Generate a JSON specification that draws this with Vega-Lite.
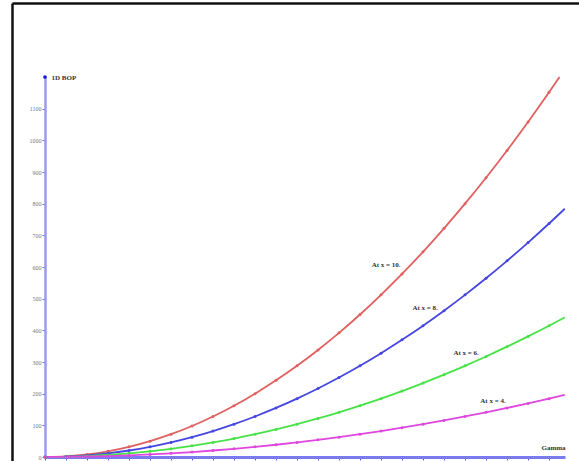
{
  "$schema": "https://vega.github.io/schema/vega-lite/v6.json",
  "width": 567,
  "height": 458,
  "autosize": {"type": "none"},
  "padding": {"left": 12, "top": 3, "right": 0, "bottom": 0},
  "background": "white",
  "config": {"view": {"stroke": null}, "axis": {"grid": false}},
  "datasets": {
    "curves": [
      {"series": "10", "g": 0, "v": 0}, {"series": "10", "g": 1, "v": 2}, {"series": "10", "g": 2, "v": 8}, {"series": "10", "g": 3, "v": 18}, {"series": "10", "g": 4, "v": 32}, {"series": "10", "g": 5, "v": 50}, {"series": "10", "g": 6, "v": 72}, {"series": "10", "g": 7, "v": 98}, {"series": "10", "g": 8, "v": 128}, {"series": "10", "g": 9, "v": 162}, {"series": "10", "g": 10, "v": 200}, {"series": "10", "g": 11, "v": 242}, {"series": "10", "g": 12, "v": 288}, {"series": "10", "g": 13, "v": 338}, {"series": "10", "g": 14, "v": 392}, {"series": "10", "g": 15, "v": 450}, {"series": "10", "g": 16, "v": 512}, {"series": "10", "g": 17, "v": 578}, {"series": "10", "g": 18, "v": 648}, {"series": "10", "g": 19, "v": 722}, {"series": "10", "g": 20, "v": 800}, {"series": "10", "g": 21, "v": 882}, {"series": "10", "g": 22, "v": 968}, {"series": "10", "g": 23, "v": 1058}, {"series": "10", "g": 24, "v": 1152}, {"series": "10", "g": 24.5, "v": 1200},
      {"series": "8", "g": 0, "v": 0}, {"series": "8", "g": 1, "v": 1.3}, {"series": "8", "g": 2, "v": 5.1}, {"series": "8", "g": 3, "v": 11.5}, {"series": "8", "g": 4, "v": 20.5}, {"series": "8", "g": 5, "v": 32}, {"series": "8", "g": 6, "v": 46.1}, {"series": "8", "g": 7, "v": 62.7}, {"series": "8", "g": 8, "v": 81.9}, {"series": "8", "g": 9, "v": 103.7}, {"series": "8", "g": 10, "v": 128}, {"series": "8", "g": 11, "v": 154.9}, {"series": "8", "g": 12, "v": 184.3}, {"series": "8", "g": 13, "v": 216.3}, {"series": "8", "g": 14, "v": 250.9}, {"series": "8", "g": 15, "v": 288}, {"series": "8", "g": 16, "v": 327.7}, {"series": "8", "g": 17, "v": 369.9}, {"series": "8", "g": 18, "v": 414.7}, {"series": "8", "g": 19, "v": 462.1}, {"series": "8", "g": 20, "v": 512}, {"series": "8", "g": 21, "v": 564.5}, {"series": "8", "g": 22, "v": 619.5}, {"series": "8", "g": 23, "v": 677.1}, {"series": "8", "g": 24, "v": 737.3}, {"series": "8", "g": 24.75, "v": 784},
      {"series": "6", "g": 0, "v": 0}, {"series": "6", "g": 1, "v": 0.7}, {"series": "6", "g": 2, "v": 2.9}, {"series": "6", "g": 3, "v": 6.5}, {"series": "6", "g": 4, "v": 11.5}, {"series": "6", "g": 5, "v": 18}, {"series": "6", "g": 6, "v": 25.9}, {"series": "6", "g": 7, "v": 35.3}, {"series": "6", "g": 8, "v": 46.1}, {"series": "6", "g": 9, "v": 58.3}, {"series": "6", "g": 10, "v": 72}, {"series": "6", "g": 11, "v": 87.1}, {"series": "6", "g": 12, "v": 103.7}, {"series": "6", "g": 13, "v": 121.7}, {"series": "6", "g": 14, "v": 141.1}, {"series": "6", "g": 15, "v": 162}, {"series": "6", "g": 16, "v": 184.3}, {"series": "6", "g": 17, "v": 208.1}, {"series": "6", "g": 18, "v": 233.3}, {"series": "6", "g": 19, "v": 259.9}, {"series": "6", "g": 20, "v": 288}, {"series": "6", "g": 21, "v": 317.5}, {"series": "6", "g": 22, "v": 348.5}, {"series": "6", "g": 23, "v": 380.9}, {"series": "6", "g": 24, "v": 414.7}, {"series": "6", "g": 24.75, "v": 441},
      {"series": "4", "g": 0, "v": 0}, {"series": "4", "g": 1, "v": 0.3}, {"series": "4", "g": 2, "v": 1.3}, {"series": "4", "g": 3, "v": 2.9}, {"series": "4", "g": 4, "v": 5.1}, {"series": "4", "g": 5, "v": 8}, {"series": "4", "g": 6, "v": 11.5}, {"series": "4", "g": 7, "v": 15.7}, {"series": "4", "g": 8, "v": 20.5}, {"series": "4", "g": 9, "v": 25.9}, {"series": "4", "g": 10, "v": 32}, {"series": "4", "g": 11, "v": 38.7}, {"series": "4", "g": 12, "v": 46.1}, {"series": "4", "g": 13, "v": 54.1}, {"series": "4", "g": 14, "v": 62.7}, {"series": "4", "g": 15, "v": 72}, {"series": "4", "g": 16, "v": 81.9}, {"series": "4", "g": 17, "v": 92.5}, {"series": "4", "g": 18, "v": 103.7}, {"series": "4", "g": 19, "v": 115.5}, {"series": "4", "g": 20, "v": 128}, {"series": "4", "g": 21, "v": 141.1}, {"series": "4", "g": 22, "v": 154.9}, {"series": "4", "g": 23, "v": 169.3}, {"series": "4", "g": 24, "v": 184.3}, {"series": "4", "g": 24.75, "v": 196}
    ],
    "labels": [
      {"text": "At x = 10.", "g": 16.24, "v": 606},
      {"text": "At x = 8.", "g": 18.1, "v": 470},
      {"text": "At x = 6.", "g": 20.05, "v": 328},
      {"text": "At x = 4.", "g": 21.33, "v": 177}
    ],
    "tip": [{"g": 0, "v": 1200}]
  },
  "layer": [
    {
      "encoding": {
        "x": {
          "field": "g", "type": "quantitative",
          "scale": {"domain": [0, 24.76], "range": [33, 553], "nice": false, "zero": false},
          "axis": {
            "orient": "bottom", "offset": -4, "values": [0,1,2,3,4,5,6,7,8,9,10,11,12,13,14,15,16,17,18,19,20,21,22,23,24],
            "labels": false, "domainColor": "#7b7bf0", "domainWidth": 3, "tickColor": "#5a5ae8", "tickSize": 3, "tickWidth": 1,
            "title": "Gamma", "titleX": 529, "titleY": -10, "titleAlign": "left", "titleBaseline": "middle", "titleFont": "Liberation Serif", "titleFontSize": 7, "titleFontWeight": "bold", "titleColor": "#333"
          }
        },
        "y": {
          "field": "v", "type": "quantitative",
          "scale": {"domain": [0, 1200], "range": [454, 74], "nice": false, "zero": false},
          "axis": {
            "orient": "left", "offset": -33, "values": [0,100,200,300,400,500,600,700,800,900,1000,1100], "format": "d",
            "domainColor": "#9a9af2", "domainWidth": 2.5, "tickColor": "#6a6aee", "tickSize": 3, "tickWidth": 1,
            "labelFont": "Liberation Serif", "labelFontSize": 6, "labelColor": "#777", "labelPadding": 1,
            "title": "1D BOP", "titleAngle": 0, "titleX": 6, "titleY": 74, "titleAlign": "left", "titleBaseline": "middle", "titleFont": "Liberation Serif", "titleFontSize": 7, "titleFontWeight": "bold", "titleColor": "#333"
          }
        }
      },
      "layer": [
        {
          "data": {"name": "curves"},
          "mark": {"type": "line", "strokeWidth": 1.8, "interpolate": "monotone"},
          "encoding": {
            "color": {"field": "series", "type": "nominal", "scale": {"domain": ["10", "8", "6", "4"], "range": ["#e06060", "#4646e2", "#46e246", "#de46de"]}, "legend": null}
          }
        },
        {
          "data": {"name": "curves"},
          "transform": [{"filter": "datum.g <= 24"}],
          "mark": {"type": "point", "filled": true, "size": 9, "opacity": 1},
          "encoding": {
            "color": {"field": "series", "type": "nominal", "scale": {"domain": ["10", "8", "6", "4"], "range": ["#8a2020", "#1e1e90", "#1e901e", "#901e90"]}, "legend": null}
          }
        },
        {
          "data": {"name": "labels"},
          "mark": {"type": "text", "font": "Liberation Serif", "fontSize": 7, "fontWeight": "bold", "color": "#333", "align": "center", "baseline": "middle"},
          "encoding": {"text": {"field": "text", "type": "nominal"}}
        },
        {
          "data": {"name": "tip"},
          "mark": {"type": "point", "filled": true, "size": 14, "color": "#1a1ad8", "opacity": 1},
          "encoding": {}
        }
      ]
    },
    {
      "data": {"values": [{"a": 0}]},
      "mark": {"type": "point", "opacity": 0},
      "encoding": {
        "x": {"datum": 0, "type": "quantitative", "scale": {"domain": [0, 1]},
          "axis": {"orient": "top", "offset": 0, "domainColor": "#111", "domainWidth": 2.5, "ticks": false, "labels": false, "title": null}},
        "y": {"datum": 0, "type": "quantitative", "scale": {"domain": [0, 1]},
          "axis": {"orient": "left", "offset": 0, "domainColor": "#111", "domainWidth": 2.5, "ticks": false, "labels": false, "title": null}}
      }
    }
  ],
  "resolve": {"scale": {"x": "independent", "y": "independent"}, "axis": {"x": "independent", "y": "independent"}}
}
